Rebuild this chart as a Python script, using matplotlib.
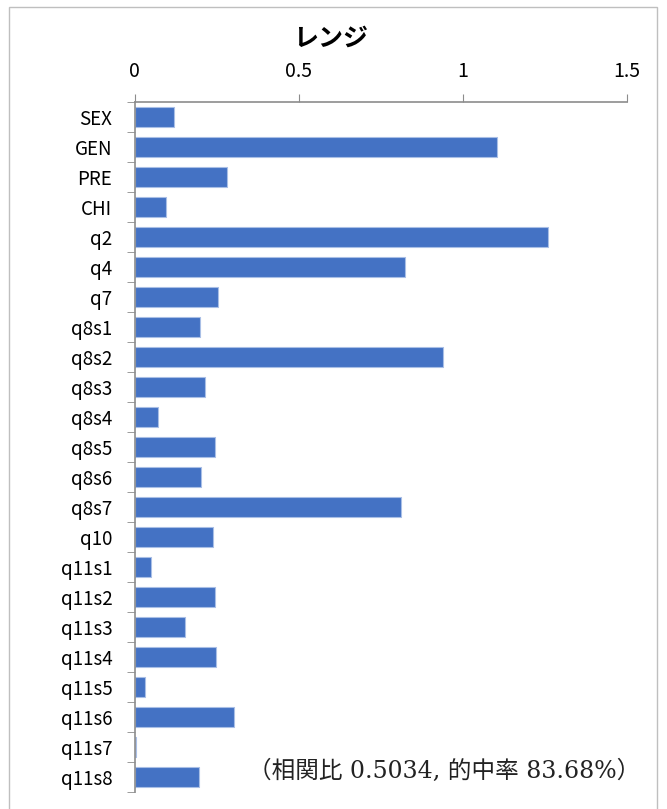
import matplotlib.pyplot as plt
from matplotlib.patches import Rectangle

plt.rcParams['font.family'] = ['Noto Sans CJK JP', 'DejaVu Sans']

# data
labels = ["SEX", "GEN", "PRE", "CHI", "q2", "q4", "q7", "q8s1", "q8s2", "q8s3",
          "q8s4", "q8s5", "q8s6", "q8s7", "q10", "q11s1", "q11s2", "q11s3",
          "q11s4", "q11s5", "q11s6", "q11s7", "q11s8"]
ranges = [0.120, 1.105, 0.282, 0.096, 1.258, 0.825, 0.255, 0.200, 0.940, 0.215,
          0.072, 0.245, 0.203, 0.812, 0.239, 0.050, 0.245, 0.154,
          0.248, 0.032, 0.303, 0.005, 0.197]
xticks = [0, 0.5, 1, 1.5]
xticklabels = ["0", "0.5", "1", "1.5"]
title = "レンジ"
note = "（相関比 0.5034, 的中率 83.68%）"

fig = plt.figure(figsize=(6.67, 8.09), dpi=100)
ax = fig.add_axes([0.2017, 0.021, 0.7383, 0.853])

ypos = list(range(len(labels)))
ax.barh(ypos, ranges, height=0.66, color="#4472C4", edgecolor="#A9BFE6", linewidth=0.8)

ax.set_xlim(0, 1.5)
ax.set_ylim(len(labels) - 0.5, -0.5)
ax.xaxis.tick_top()
ax.set_xticks(xticks)
ax.set_xticklabels(xticklabels, fontsize=14)
ax.set_yticks(ypos)
ax.set_yticklabels(labels, fontsize=13.5)
ax.tick_params(axis="y", length=0, pad=16)
ax.tick_params(axis="x", length=6, color="#8C8C8C", pad=8)
# category boundary ticks on y axis
ax.set_yticks([i - 0.5 for i in range(len(labels) + 1)], minor=True)
ax.tick_params(axis="y", which="minor", length=6, color="#8C8C8C")

for side in ["right", "bottom"]:
    ax.spines[side].set_visible(False)
ax.spines["top"].set_color("#8C8C8C")
ax.spines["left"].set_color("#8C8C8C")
ax.spines["top"].set_linewidth(1.2)
ax.spines["left"].set_linewidth(1.2)

fig.text(331 / 667, 1 - 39 / 809, title, fontsize=18, fontweight="bold",
         ha="center", va="center")
fig.text(640 / 667, 1 - 771 / 809, note, fontsize=17, ha="right", va="center",
         color="#222222", family=["DejaVu Serif", "Noto Sans CJK JP"])

# outer chart border
fig.patches.append(Rectangle((9 / 667, -0.01), 648 / 667, 1 - 7 / 809 + 0.01,
                             transform=fig.transFigure, fill=False,
                             edgecolor="#BFBFBF", linewidth=1))

fig.savefig("out.png", dpi=100)
